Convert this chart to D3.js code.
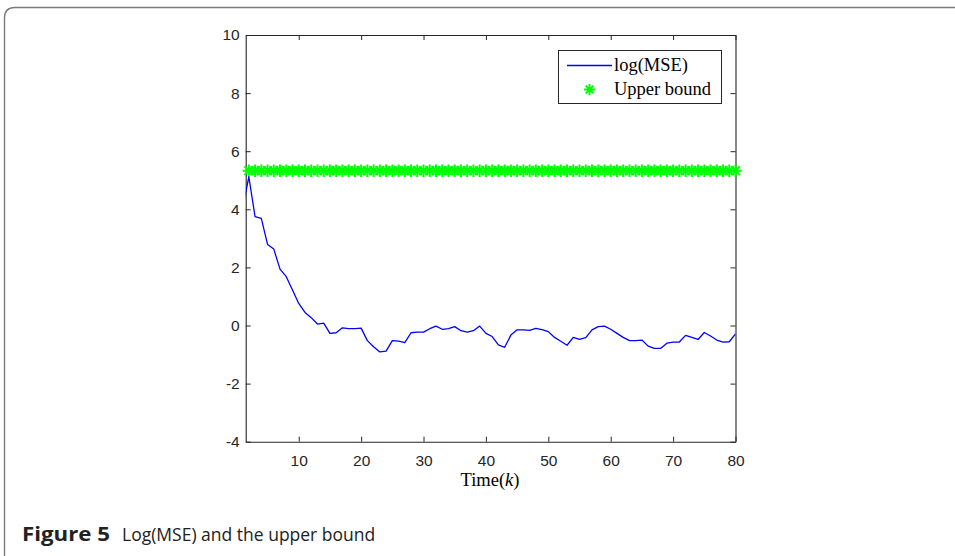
<!DOCTYPE html>
<html>
<head>
<meta charset="utf-8">
<script src="https://cdn.jsdelivr.net/npm/d3@7"></script>
<style>
  body { margin: 0; background: #fff; }
</style>
</head>
<body>
<div id="chart"></div>
<script>
    // values
    var timeK = d3.range(1, 81)
    var logMSE = [4.02, 5.12, 3.75, 3.69, 2.79, 2.63, 1.94, 1.68, 1.22, 0.76,
        0.45, 0.27, 0.05, 0.08, -0.27, -0.25, -0.08, -0.11, -0.11, -0.09,
        -0.52, -0.73, -0.91, -0.88, -0.52, -0.54, -0.59, -0.25, -0.23, -0.23,
        -0.11, -0.02, -0.13, -0.11, -0.04, -0.18, -0.23, -0.18, -0.02, -0.27,
        -0.38, -0.67, -0.75, -0.33, -0.15, -0.15, -0.17, -0.10, -0.14, -0.21,
        -0.41, -0.54, -0.68, -0.41, -0.48, -0.42, -0.15, -0.04, -0.02, -0.13,
        -0.27, -0.41, -0.52, -0.52, -0.50, -0.71, -0.79, -0.79, -0.61, -0.57,
        -0.57, -0.34, -0.41, -0.48, -0.24, -0.36, -0.50, -0.57, -0.56, -0.29]
    var upperBound = 5.33
    var xTicks = [10, 20, 30, 40, 50, 60, 70, 80]
    var yTicks = [-4, -2, 0, 2, 4, 6, 8, 10]
    var legendLabels = ["log(MSE)", "Upper bound"]

    var width = 955, height = 556
    var plot = {left: 245.7, right: 735.5, top: 35, bottom: 441.7}
    var axisColor = "#262626"

    var svg = d3.select("#chart")
                .append("svg")
                .attr("width", width)
                .attr("height", height)

    // card border (only top-left corner shows)
    svg.append("path")
       .attr("d", "M4.5,560 L4.5,18 Q4.5,7.5 15,7.5 L960,7.5")
       .attr("fill", "none")
       .attr("stroke", "#7a7a7a")
       .attr("stroke-width", 1.4)

    var x = d3.scaleLinear().domain([1.5, 80]).range([plot.left, plot.right])
    var y = d3.scaleLinear().domain([-4, 10]).range([plot.bottom, plot.top])

    svg.append("clipPath").attr("id", "plotclip")
       .append("rect")
       .attr("x", plot.left).attr("y", plot.top)
       .attr("width", plot.right - plot.left).attr("height", plot.bottom - plot.top)

    // axes, MATLAB style: ticks inward, box around
    var tickLen = 5
    var xAxisB = d3.axisBottom(x).tickValues(xTicks).tickSizeInner(-tickLen).tickSizeOuter(0).tickPadding(13)
    var xAxisT = d3.axisTop(x).tickValues(xTicks).tickSizeInner(-tickLen).tickSizeOuter(0).tickFormat("")
    var yAxisL = d3.axisLeft(y).tickValues(yTicks).tickSizeInner(-tickLen).tickSizeOuter(0).tickPadding(6)
    var yAxisR = d3.axisRight(y).tickValues(yTicks).tickSizeInner(-tickLen).tickSizeOuter(0).tickFormat("")

    var gxb = svg.append("g").attr("transform", "translate(0," + plot.bottom + ")").call(xAxisB)
    var gxt = svg.append("g").attr("transform", "translate(0," + plot.top + ")").call(xAxisT)
    var gyl = svg.append("g").attr("transform", "translate(" + plot.left + ",0)").call(yAxisL)
    var gyr = svg.append("g").attr("transform", "translate(" + plot.right + ",0)").call(yAxisR)

    ;[gxb, gxt, gyl, gyr].forEach(function(g){
        g.select(".domain").attr("stroke", axisColor).attr("stroke-width", 1.1)
        g.selectAll(".tick line").attr("stroke", axisColor).attr("stroke-width", 1)
        g.selectAll(".tick text")
         .attr("fill", axisColor)
         .style("font-family", "Liberation Sans, Arial, sans-serif")
         .style("font-size", "15.5px")
    })
    // plain hyphen for negatives, as in the figure
    gyl.selectAll(".tick text").text(function(d){ return d < 0 ? "-" + Math.abs(d) : d })

    // MATLAB '*' marker
    function star(s){
        var r = s / 2, d = r * 0.7071
        return "M" + (-r) + ",0L" + r + ",0M0," + (-r) + "L0," + r +
               "M" + (-d) + "," + (-d) + "L" + d + "," + d +
               "M" + (-d) + "," + d + "L" + d + "," + (-d)
    }

    svg.append("g")
       .selectAll("path")
       .data(timeK.filter(function(k){ return k >= 1.5 }))
       .enter()
       .append("path")
       .attr("d", star(12.5))
       .attr("transform", function(k){ return "translate(" + x(k) + "," + y(upperBound) + ")" })
       .attr("fill", "none")
       .attr("stroke", "#00ff00")
       .attr("stroke-width", 2)

    // log(MSE) line
    var line = d3.line()
                 .x(function(d, i){ return x(timeK[i]) })
                 .y(function(d){ return y(d) })

    svg.append("path")
       .datum(logMSE)
       .attr("clip-path", "url(#plotclip)")
       .attr("d", line)
       .attr("fill", "none")
       .attr("stroke", "#0000ff")
       .attr("stroke-width", 1.3)
       .attr("stroke-linejoin", "round")

    // x label
    var xl = svg.append("text")
                .attr("x", 490).attr("y", 486)
                .attr("text-anchor", "middle")
                .style("font-family", "Liberation Serif, DejaVu Serif, serif")
                .style("font-size", "18.5px")
                .attr("fill", "#000")
    xl.append("tspan").text("Time(")
    xl.append("tspan").style("font-style", "italic").text("k")
    xl.append("tspan").text(")")

    // legend
    var leg = svg.append("g")
    leg.append("rect")
       .attr("x", 558.5).attr("y", 50.5)
       .attr("width", 163).attr("height", 53)
       .attr("fill", "#fff")
       .attr("stroke", axisColor)
       .attr("stroke-width", 1)
    leg.append("line")
       .attr("x1", 567).attr("x2", 612)
       .attr("y1", 65.5).attr("y2", 65.5)
       .attr("stroke", "#0000ff").attr("stroke-width", 1.3)
    leg.append("path")
       .attr("d", star(11))
       .attr("transform", "translate(589.5,89.5)")
       .attr("fill", "none").attr("stroke", "#00ff00").attr("stroke-width", 2)
    legendLabels.forEach(function(lbl, i){
        leg.append("text")
           .attr("x", 614).attr("y", 71 + i * 24)
           .text(lbl)
           .style("font-family", "Liberation Serif, DejaVu Serif, serif")
           .style("font-size", "18.5px")
           .attr("fill", "#000")
    })

    // caption
    var cap = svg.append("text")
                 .attr("x", 22).attr("y", 541)
                 .style("font-family", "Open Sans, Noto Sans, sans-serif")
                 .attr("fill", "#222")
    cap.append("tspan").style("font-weight", "bold").style("font-size", "20px")
       .attr("textLength", 88).attr("lengthAdjust", "spacingAndGlyphs").text("Figure 5")
    cap.append("tspan").attr("x", 122).style("font-size", "17.5px").text("Log(MSE) and the upper bound")
</script>
</body>
</html>
